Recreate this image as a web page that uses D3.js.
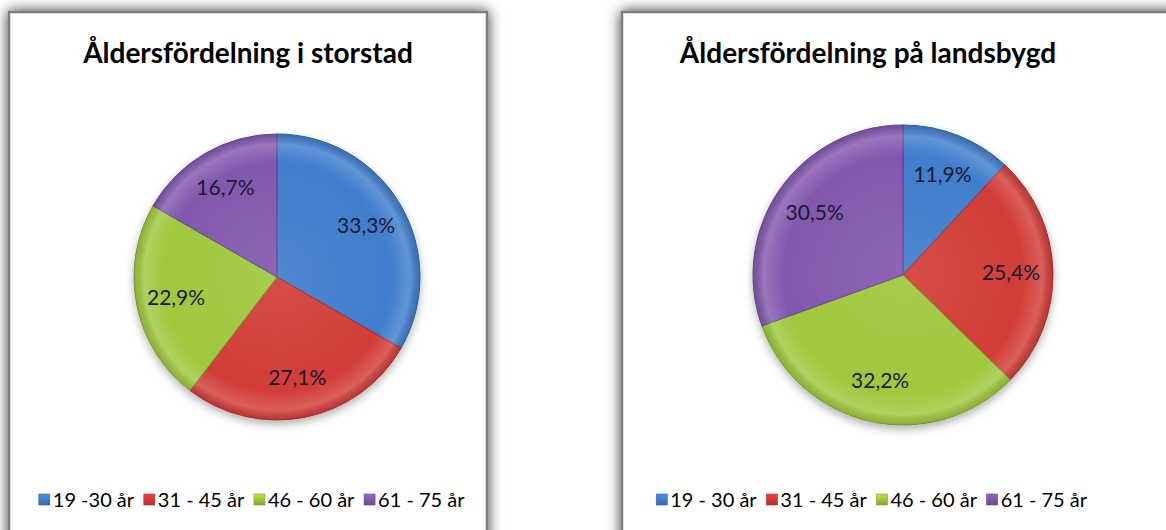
<!DOCTYPE html>
<html>
<head>
<meta charset="utf-8">
<script src="https://cdn.jsdelivr.net/npm/d3@7"></script>
<style>
  body { margin: 0; background: #fff; }
  text { font-family: Lato, "Open Sans", sans-serif; }
</style>
</head>
<body>
<div class="content"></div>
<script>
var size = {width: 1166, height: 530};

// chart data
var titles = ["Åldersfördelning i storstad", "Åldersfördelning på landsbygd"];
var legendLeft = ["19 -30 år", "31 - 45 år", "46 - 60 år", "61 - 75 år"];
var legendRight = ["19 - 30 år", "31 - 45 år", "46 - 60 år", "61 - 75 år"];
var storstad = [33.3, 27.1, 22.9, 16.7];
var landsbygd = [11.9, 25.4, 32.2, 30.5];
var colors = ["#3f7dcc", "#d23c38", "#9fc83c", "#8259ae"];

var panels = [
    {id: 'a', x: 9, y: 12, w: 478, mid: 248, title: titles[0], values: storstad, legend: legendLeft, cx: 277, cy: 277, r: 143},
    {id: 'b', x: 622, y: 12, w: 600, mid: 868, title: titles[1], values: landsbygd, legend: legendRight, cx: 903, cy: 275, r: 150}
];

var chart = d3.select('.content')
    .append('svg:svg')
    .attr('width', size.width)
    .attr('height', size.height);

var defs = chart.append('defs');
var shadow = defs.append('filter').attr('id', 'panelShadow')
    .attr('x', '-10%').attr('y', '-10%').attr('width', '120%').attr('height', '120%');
shadow.append('feDropShadow').attr('dx', 0).attr('dy', 0).attr('stdDeviation', 7)
    .attr('flood-color', '#000').attr('flood-opacity', 0.8);

var pieShadow = defs.append('filter').attr('id', 'pieShadow')
    .attr('x', '-20%').attr('y', '-20%').attr('width', '140%').attr('height', '140%');
pieShadow.append('feDropShadow').attr('dx', 0).attr('dy', 4).attr('stdDeviation', 4)
    .attr('flood-color', '#000').attr('flood-opacity', 0.3);

colors.forEach(function(c, i) {
    var sq = defs.append('linearGradient').attr('id', 'sq' + i)
        .attr('x1', 0).attr('y1', 0).attr('x2', 0).attr('y2', 1);
    sq.append('stop').attr('offset', '0%').attr('stop-color', d3.color(c).brighter(0.4));
    sq.append('stop').attr('offset', '100%').attr('stop-color', d3.color(c).darker(0.5));
});

var pie = d3.pie().sort(null).value(function(d) { return d; });

panels.forEach(function(p) {
    var g = chart.append('g');

    // rim gradient centred on the pie
    var rim = defs.append('radialGradient').attr('id', 'rim' + p.id)
        .attr('gradientUnits', 'userSpaceOnUse')
        .attr('cx', 0).attr('cy', 0).attr('r', p.r);
    rim.append('stop').attr('offset', '0%').attr('stop-color', '#fff').attr('stop-opacity', 0.08);
    rim.append('stop').attr('offset', '80%').attr('stop-color', '#fff').attr('stop-opacity', 0);
    rim.append('stop').attr('offset', '93%').attr('stop-color', '#fff').attr('stop-opacity', 0.18);
    rim.append('stop').attr('offset', '100%').attr('stop-color', '#000').attr('stop-opacity', 0.12);

    g.append('rect')
        .attr('x', p.x).attr('y', p.y)
        .attr('width', p.w).attr('height', 560)
        .attr('fill', '#fff')
        .attr('stroke', '#7d7d7d')
        .attr('stroke-width', 2.5)
        .attr('filter', 'url(#panelShadow)');

    g.append('text')
        .attr('x', p.mid)
        .attr('y', 63)
        .attr('text-anchor', 'middle')
        .attr('font-size', 28)
        .attr('font-weight', 'bold')
        .attr('fill', '#000')
        .text(p.title);

    var arc = d3.arc().innerRadius(0).outerRadius(p.r);
    var labelArc = d3.arc().innerRadius(p.r * 0.72).outerRadius(p.r * 0.72);
    var arcs = pie(p.values);

    var pg = g.append('g').attr('transform', 'translate(' + p.cx + ',' + p.cy + ')');
    var slices = pg.append('g').attr('filter', 'url(#pieShadow)');
    slices.selectAll('path.slice')
        .data(arcs)
        .enter().append('path')
        .attr('class', 'slice')
        .attr('d', arc)
        .attr('fill', function(d, i) { return colors[i]; })
        .attr('stroke', function(d, i) { return d3.color(colors[i]).darker(0.8); })
        .attr('stroke-width', 1);
    pg.selectAll('path.bevel')
        .data(arcs)
        .enter().append('path')
        .attr('class', 'bevel')
        .attr('d', d3.arc().innerRadius(0).outerRadius(p.r - 0.5))
        .attr('fill', 'url(#rim' + p.id + ')');

    pg.selectAll('text.lbl')
        .data(arcs)
        .enter().append('text')
        .attr('class', 'lbl')
        .attr('transform', function(d) { return 'translate(' + labelArc.centroid(d) + ')'; })
        .attr('text-anchor', 'middle')
        .attr('dy', '0.35em')
        .attr('font-size', 21)
        .attr('fill', '#1a1a2e')
        .text(function(d) { return d3.format('.1f')(d.value).replace('.', ',') + '%'; });

    // legend
    var lg = g.append('g');
    var items = lg.selectAll('g.item').data(p.legend).enter().append('g').attr('class', 'item');
    items.append('rect')
        .attr('width', 11).attr('height', 11)
        .attr('y', -13)
        .attr('fill', function(d, i) { return 'url(#sq' + i + ')'; })
        .attr('stroke', function(d, i) { return d3.color(colors[i]).darker(0.6); })
        .attr('stroke-width', 0.6);
    items.append('text')
        .attr('x', 14)
        .attr('font-size', 20)
        .attr('fill', '#000')
        .text(function(d) { return d; });
    var xs = 0, offsets = [];
    items.each(function() {
        offsets.push(xs);
        xs += this.getBBox().width + 9;
    });
    xs -= 9;
    var startX = p.mid - xs / 2 + 4;
    items.attr('transform', function(d, i) { return 'translate(' + (startX + offsets[i]) + ',507)'; });
});
</script>
</body>
</html>
